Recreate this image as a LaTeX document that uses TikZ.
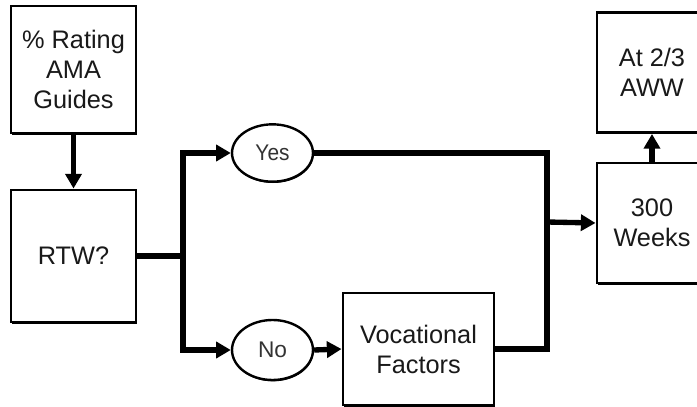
\documentclass[tikz,border=0pt]{standalone}
\usepackage{fontspec}
\setmainfont{Liberation Sans}
\usetikzlibrary{arrows.meta,shapes.geometric,shadows}
\tikzset{
  box/.style={draw=black, line width=2.2pt, fill=white, align=center,
    font=\fontsize{19}{22.5}\selectfont, text=black!90,
    drop shadow={shadow xshift=0.6pt, shadow yshift=-1.4pt, fill=black, opacity=1}},
  oval/.style={ellipse, draw=black, line width=1.8pt, fill=white, inner sep=0pt,
    font=\fontsize{17}{19}\selectfont, text=black!80,
    drop shadow={shadow xshift=0.4pt, shadow yshift=-1pt, fill=black, opacity=1}},
  conn/.style={line width=4pt, draw=black},
  arr/.style={conn, -{Triangle[length=11pt,width=12pt]}},
}
\begin{document}
\begin{tikzpicture}[x=0.75pt,y=-0.75pt]
\useasboundingbox (0,0) rectangle (697,407);
\clip (0,0) rectangle (697,407);

\node[box, minimum width=93.75pt, minimum height=95.25pt] (ama) at (73.5,69.5) {\% Rating\\AMA\\Guides};
\node[box, minimum width=93.75pt, minimum height=99pt] (rtw) at (73.5,256) {RTW?};
\node[oval, minimum width=60.75pt, minimum height=43pt] (yes) at (272.5,153) {\scalebox{0.92}[1]{Yes}};
\node[oval, minimum width=60.75pt, minimum height=45pt] (no) at (272.5,350) {No};
\node[box, minimum width=113.25pt, minimum height=84pt] (voc) at (418.5,349) {Vocational\\Factors};
\node[box, minimum width=82.5pt, minimum height=90pt] (wks) at (652,223) {300\\Weeks};
\node[box, minimum width=82.5pt, minimum height=90pt] (aww) at (652,72.5) {At 2/3\\AWW};

\coordinate (j1) at (183,256);
\coordinate (j2) at (547,222);

\draw[arr] (ama.south) -- (rtw.north);
\draw[conn] (rtw.east) -- (j1);
\draw[arr] (j1) |- (yes.west);
\draw[arr] (j1) |- (no.west);
\draw[arr] (no.east) -- (voc.west);
\draw[conn] (yes.east) -| (j2);
\draw[conn] (voc.east) -| (j2);
\draw[arr] (j2) -- (wks.west);
\draw[arr] (wks.north) -- (aww.south);
\end{tikzpicture}
\end{document}
